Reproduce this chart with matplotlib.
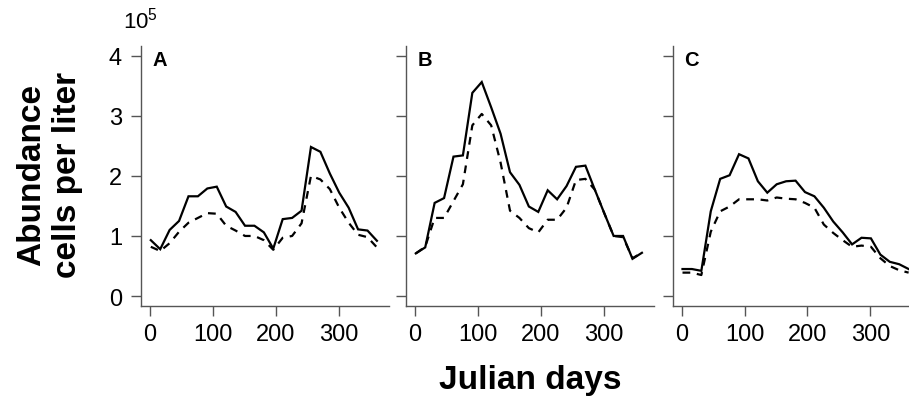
import matplotlib.pyplot as plt

plt.rcParams['font.family'] = ['Liberation Sans', 'DejaVu Sans']

# Jours juliens (composites ~15 jours)
jours = [1, 16, 31, 46, 61, 76, 91, 106, 121, 136, 151, 166, 181,
         196, 211, 226, 241, 256, 271, 286, 301, 316, 331, 346, 361]

# Abondance (x 10^5 cellules par litre) - trait plein / pointillé
a_plein = [0.93, 0.78, 1.10, 1.25, 1.66, 1.66, 1.79, 1.82, 1.49, 1.40, 1.17, 1.17, 1.06,
           0.79, 1.28, 1.30, 1.42, 2.48, 2.40, 2.04, 1.72, 1.47, 1.11, 1.09, 0.92]
a_tiret = [0.82, 0.75, 0.88, 1.07, 1.22, 1.30, 1.38, 1.37, 1.17, 1.09, 1.00, 1.00, 0.93,
           0.77, 0.97, 1.00, 1.21, 2.00, 1.94, 1.78, 1.47, 1.22, 1.02, 0.98, 0.81]

b_plein = [0.71, 0.81, 1.55, 1.63, 2.32, 2.34, 3.38, 3.56, 3.14, 2.70, 2.06, 1.85, 1.49,
           1.40, 1.76, 1.61, 1.83, 2.15, 2.17, 1.77, 1.38, 1.00, 1.00, 0.62, 0.72]
b_tiret = [0.71, 0.82, 1.30, 1.30, 1.58, 1.86, 2.84, 3.03, 2.84, 2.22, 1.42, 1.30, 1.13,
           1.06, 1.27, 1.27, 1.47, 1.93, 1.95, 1.77, 1.38, 1.00, 0.98, 0.63, 0.72]

c_plein = [0.45, 0.45, 0.42, 1.41, 1.95, 2.01, 2.36, 2.29, 1.91, 1.72, 1.86, 1.91, 1.92,
           1.73, 1.66, 1.47, 1.24, 1.06, 0.86, 0.97, 0.96, 0.69, 0.57, 0.53, 0.45]
c_tiret = [0.39, 0.39, 0.35, 1.07, 1.41, 1.49, 1.61, 1.61, 1.61, 1.59, 1.64, 1.62, 1.61,
           1.55, 1.47, 1.19, 1.05, 0.93, 0.82, 0.84, 0.82, 0.63, 0.50, 0.43, 0.39]

panneaux = ['A', 'B', 'C']
series = [(a_plein, a_tiret), (b_plein, b_tiret), (c_plein, c_tiret)]
gauches = [141 / 909, 406 / 909, 672.7 / 909]

fig = plt.figure(figsize=(9.09, 4.02), dpi=100)

gris = '#555555'
for i, (lettre, (plein, tiret)) in enumerate(zip(panneaux, series)):
    ax = fig.add_axes([gauches[i], 95.3 / 402, 247.6 / 909, 259.7 / 402])
    ax.plot(jours, plein, color='black', lw=1.6, solid_joinstyle='miter')
    ax.plot(jours, tiret, color='black', lw=1.6, linestyle=(0, (3.5, 3)))
    ax.set_xlim(-14.6, 379.6)
    ax.set_ylim(-0.16, 4.16)
    ax.set_xticks([0, 100, 200, 300])
    ax.set_yticks([0, 1, 2, 3, 4])
    for s in ['top', 'right']:
        ax.spines[s].set_visible(False)
    for s in ['left', 'bottom']:
        ax.spines[s].set_color(gris)
        ax.spines[s].set_linewidth(1.0)
    ax.tick_params(axis='both', direction='out', length=7.2, width=1.0, color=gris)
    ax.tick_params(axis='x', labelsize=17, pad=5)
    ax.tick_params(axis='y', labelsize=17, pad=6.5)
    if i > 0:
        ax.set_yticklabels([])
    ax.text(0.045, 0.985, lettre, transform=ax.transAxes, fontsize=14.5,
            fontweight='bold', ha='left', va='top')

fig.text(140 / 909, 1 - 21 / 402, r'$\mathregular{10^5}$', fontsize=16,
         ha='center', va='center')
fig.text(530 / 909, 1 - 381 / 402, 'Julian days', fontsize=24,
         fontweight='bold', ha='center', va='center')
fig.text(50 / 909, 1 - 175 / 402, 'Abundance\ncells per liter', fontsize=24,
         fontweight='bold', ha='center', va='center', rotation=90,
         linespacing=1.2)

fig.savefig('out.png', dpi=100)
